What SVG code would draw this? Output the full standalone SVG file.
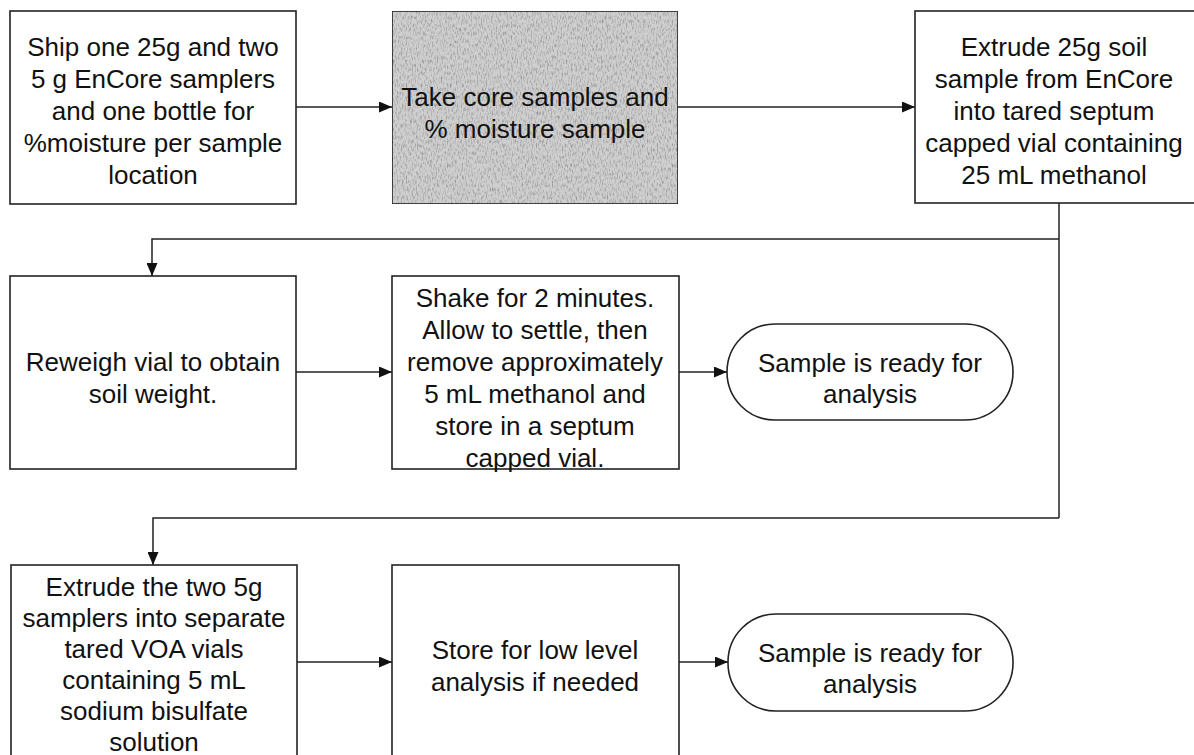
<svg xmlns="http://www.w3.org/2000/svg" width="1194" height="755" viewBox="0 0 1194 755">
<style>
.box{fill:#fff;stroke:#222;stroke-width:1.6}
.gray{fill:#cfcfcf;stroke:#222;stroke-width:1.6}
.t{font-family:"Liberation Sans",Arial,sans-serif;font-size:26px;fill:#111;text-anchor:middle}
.c{fill:none;stroke:#222;stroke-width:1.5}
</style>
<defs>
<marker id="ah" viewBox="0 0 13 11" refX="13" refY="5.5" markerWidth="13" markerHeight="11" markerUnits="userSpaceOnUse" orient="auto">
<path d="M0,0 L13,5.5 L0,11 Z" fill="#111"/>
</marker>
<filter id="grain" x="0" y="0" width="1" height="1">
<feTurbulence type="fractalNoise" baseFrequency="0.8 0.25" numOctaves="2" seed="3" result="n"/>
<feColorMatrix type="matrix" values="0 0 0 0 0  0 0 0 0 0  0 0 0 0 0  0 0 0 -1.3 0.72" in="n" result="a"/>
<feComposite in="a" in2="SourceGraphic" operator="in" result="m"/>
<feMerge><feMergeNode in="SourceGraphic"/><feMergeNode in="m"/></feMerge>
</filter>
</defs>
<g id="connectors">
<path class="c" d="M296,107 H392" marker-end="url(#ah)"/>
<path class="c" d="M678,107 H915" marker-end="url(#ah)"/>
<path class="c" d="M1059,203 V518"/>
<path class="c" d="M1059,239 H152 V276" marker-end="url(#ah)"/>
<path class="c" d="M1059,518 H153 V565" marker-end="url(#ah)"/>
<path class="c" d="M296,372 H392" marker-end="url(#ah)"/>
<path class="c" d="M679,372 H727" marker-end="url(#ah)"/>
<path class="c" d="M297,662 H392" marker-end="url(#ah)"/>
<path class="c" d="M679,662 H728" marker-end="url(#ah)"/>
</g>
<g id="n1">
<rect class="box" x="10" y="11" width="286" height="193"/>
<text class="t" x="153" y="56">Ship one 25g and two</text>
<text class="t" x="153" y="88">5 g EnCore samplers</text>
<text class="t" x="153" y="120">and one bottle for</text>
<text class="t" x="153" y="152">%moisture per sample</text>
<text class="t" x="153" y="184">location</text>
</g>
<g id="n2">
<rect class="gray" x="392" y="11" width="286" height="193" filter="url(#grain)"/>
<text class="t" x="535" y="106">Take core samples and</text>
<text class="t" x="535" y="138">% moisture sample</text>
</g>
<g id="n3">
<rect class="box" x="915" y="11" width="282" height="192"/>
<text class="t" x="1054" y="56">Extrude 25g soil</text>
<text class="t" x="1054" y="88">sample from EnCore</text>
<text class="t" x="1054" y="120">into tared septum</text>
<text class="t" x="1054" y="152">capped vial containing</text>
<text class="t" x="1054" y="184">25 mL methanol</text>
</g>
<g id="n4">
<rect class="box" x="10" y="276" width="286" height="193"/>
<text class="t" x="153" y="371">Reweigh vial to obtain</text>
<text class="t" x="153" y="403">soil weight.</text>
</g>
<g id="n5">
<rect class="box" x="392" y="276" width="287" height="193"/>
<text class="t" x="535" y="307">Shake for 2 minutes.</text>
<text class="t" x="535" y="339">Allow to settle, then</text>
<text class="t" x="535" y="371">remove approximately</text>
<text class="t" x="535" y="403">5 mL methanol and</text>
<text class="t" x="535" y="435">store in a septum</text>
<text class="t" x="535" y="467">capped vial.</text>
</g>
<g id="n6">
<rect class="box" x="727" y="324" width="286" height="96" rx="48" ry="48"/>
<text class="t" x="870" y="372">Sample is ready for</text>
<text class="t" x="870" y="403">analysis</text>
</g>
<g id="n7">
<rect class="box" x="11" y="565" width="286" height="210"/>
<text class="t" x="154" y="596">Extrude the two 5g</text>
<text class="t" x="154" y="627">samplers into separate</text>
<text class="t" x="154" y="658">tared VOA vials</text>
<text class="t" x="154" y="689">containing 5 mL</text>
<text class="t" x="154" y="720">sodium bisulfate</text>
<text class="t" x="154" y="751">solution</text>
</g>
<g id="n8">
<rect class="box" x="392" y="565" width="287" height="210"/>
<text class="t" x="535" y="659">Store for low level</text>
<text class="t" x="535" y="691">analysis if needed</text>
</g>
<g id="n9">
<rect class="box" x="728" y="614" width="285" height="97" rx="48" ry="48"/>
<text class="t" x="870" y="662">Sample is ready for</text>
<text class="t" x="870" y="693">analysis</text>
</g>
</svg>
